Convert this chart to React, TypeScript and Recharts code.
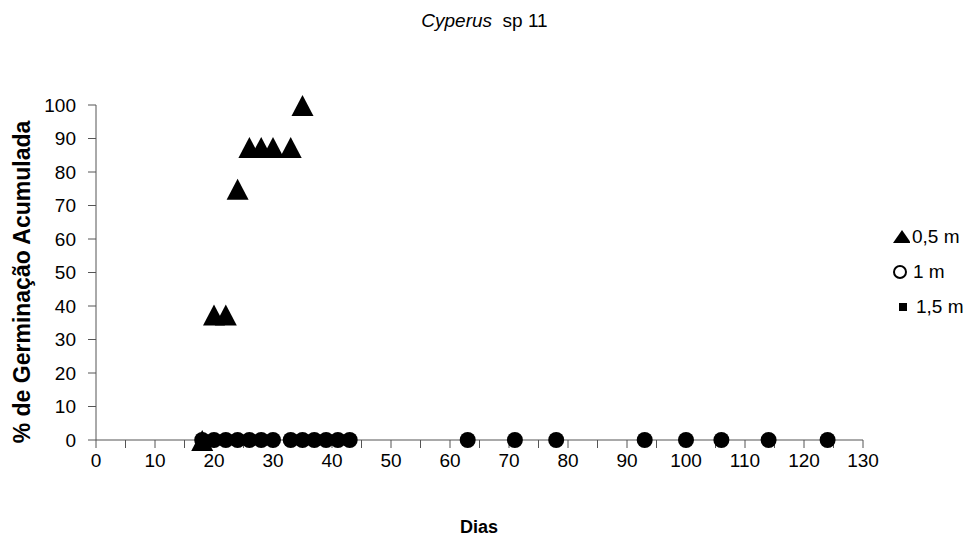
import { Scatter, ScatterChart, XAxis, YAxis } from "recharts";

// dias (x) e % de germinação acumulada (y)
const days05 = [18, 20, 22, 24, 26, 28, 30, 33, 35];
const germ05 = [0, 37.5, 37.5, 75, 87.5, 87.5, 87.5, 87.5, 100];

const days1 = [18, 20, 22, 24, 26, 28, 30, 33, 35, 37, 39, 41, 43, 63, 71, 78, 93, 100, 106, 114, 124];
const germ1 = [0, 0, 0, 0, 0, 0, 0, 0, 0, 0, 0, 0, 0, 0, 0, 0, 0, 0, 0, 0, 0];

const days15 = days1;
const germ15 = germ1;

const xTicks = [0, 5, 10, 15, 20, 25, 30, 35, 40, 45, 50, 55, 60, 65, 70, 75, 80, 85, 90, 95, 100, 105, 110, 115, 120, 125, 130];
const yTicks = [0, 10, 20, 30, 40, 50, 60, 70, 80, 90, 100];

const legendItems = ["0,5 m", "1 m", "1,5 m"];

const font = "'Liberation Sans', Arial, sans-serif";

const toPoints = (xs: number[], ys: number[]) => xs.map((x, i) => ({ x, y: ys[i] }));

const Triangle = (props: any) => {
  const { cx, cy } = props;
  if (cx == null || cy == null) return null;
  return <polygon points={`${cx},${cy - 10} ${cx + 11},${cy + 11} ${cx - 11},${cy + 11}`} fill="#000" />;
};

const Dot = (props: any) => {
  const { cx, cy } = props;
  if (cx == null || cy == null) return null;
  return <circle cx={cx} cy={cy} r={8} fill="#000" />;
};

const Square = (props: any) => {
  const { cx, cy } = props;
  if (cx == null || cy == null) return null;
  return <rect x={cx - 4} y={cy - 4} width={8} height={8} fill="#000" />;
};

export default function App() {
  return (
    <div style={{ position: "absolute", left: 0, top: 0, width: 969, height: 539, background: "#fff", fontFamily: font }}>
      <div style={{ position: "absolute", top: 10, left: 0, width: 969, textAlign: "center", fontSize: 19, lineHeight: "22px" }}>
        <i>Cyperus</i>&nbsp; sp 11
      </div>
      <div
        style={{
          position: "absolute",
          left: 22,
          top: 282,
          transform: "translate(-50%, -50%) rotate(-90deg)",
          whiteSpace: "nowrap",
          fontSize: 23,
          lineHeight: "24px",
          fontWeight: "bold",
        }}
      >
        % de Germinação Acumulada
      </div>
      <div
        style={{
          position: "absolute",
          left: 479,
          top: 527,
          transform: "translate(-50%, -50%)",
          fontSize: 18,
          lineHeight: "20px",
          fontWeight: "bold",
        }}
      >
        Dias
      </div>

      <div style={{ position: "absolute", left: 890, top: 219, fontSize: 19 }}>
        {legendItems.map((name, i) => (
          <div key={name} style={{ display: "flex", alignItems: "center", height: 35 }}>
            <svg width={20} height={20} style={{ marginRight: 2 }}>
              {i === 0 && <polygon points="12,3 21,16 3,16" fill="#000" />}
              {i === 1 && <circle cx={10} cy={10} r={6} fill="#fff" stroke="#000" strokeWidth={2} />}
              {i === 2 && <rect x={9} y={6} width={8} height={8} fill="#000" />}
            </svg>
            <span style={{ marginLeft: i === 2 ? 4 : i === 1 ? 1 : 0 }}>{name}</span>
          </div>
        ))}
      </div>

      <div style={{ position: "absolute", left: 0, top: 0 }}>
        <ScatterChart width={969} height={539} margin={{ top: 105, right: 106, left: 36, bottom: 59 }}>
          <XAxis
            type="number"
            dataKey="x"
            domain={[0, 130]}
            ticks={xTicks}
            interval={0}
            tickFormatter={(v: number) => (v % 10 === 0 ? String(v) : "")}
            tickSize={8}
            tickMargin={6}
            height={40}
            axisLine={{ stroke: "#555" }}
            tickLine={{ stroke: "#555" }}
            tick={{ fill: "#000", fontSize: 19, fontFamily: font }}
          />
          <YAxis
            type="number"
            dataKey="y"
            domain={[0, 100]}
            ticks={yTicks}
            interval={0}
            tickSize={8}
            tickMargin={12}
            width={60}
            axisLine={{ stroke: "#555" }}
            tickLine={{ stroke: "#555" }}
            tick={{ fill: "#000", fontSize: 19, fontFamily: font }}
          />
          <Scatter name="1,5 m" data={toPoints(days15, germ15)} shape={Square} isAnimationActive={false} />
          <Scatter name="1 m" data={toPoints(days1, germ1)} shape={Dot} isAnimationActive={false} />
          <Scatter name="0,5 m" data={toPoints(days05, germ05)} shape={Triangle} isAnimationActive={false} />
        </ScatterChart>
      </div>
    </div>
  );
}
